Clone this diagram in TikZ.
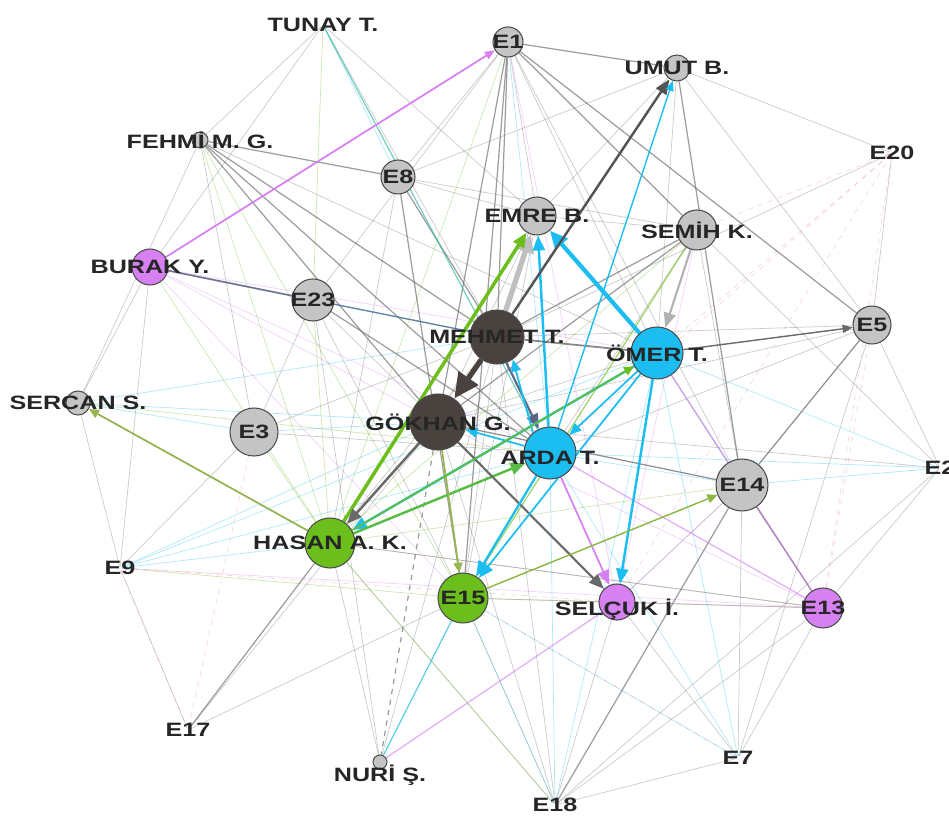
\documentclass[tikz,border=0pt]{standalone}
\usepackage{fontspec}
\newfontfamily\lblfont{Liberation Sans}[FakeStretch=1.3]
\usepackage{xcolor}
\usepackage{tikz}
\usetikzlibrary{positioning,shapes,arrows.meta,backgrounds}

\definecolor{nodedark}{RGB}{74,66,62}
\definecolor{nodecyan}{RGB}{28,190,242}
\definecolor{nodegreen}{RGB}{108,190,28}
\definecolor{nodepurple}{RGB}{214,128,242}
\definecolor{nodegray}{RGB}{196,196,196}
\definecolor{edgegray}{RGB}{105,105,105}
\definecolor{edgeteal}{RGB}{40,185,160}
\definecolor{edgeolive}{RGB}{150,180,80}
\definecolor{edgepink}{RGB}{235,140,140}
\definecolor{edgeslate}{RGB}{95,100,135}

\tikzset{
  actor/.style={circle, draw=black!70, line width=0.6pt, inner sep=0pt},
  darknode/.style={actor, fill=nodedark, minimum size=#1},
  cyannode/.style={actor, fill=nodecyan, minimum size=#1},
  greennode/.style={actor, fill=nodegreen, minimum size=#1},
  purplenode/.style={actor, fill=nodepurple, minimum size=#1},
  graynode/.style={actor, fill=nodegray, minimum size=#1},
  tag/.style={inner sep=0pt, minimum size=0.6mm},
  every label/.style={font=\lblfont\bfseries\fontsize{11}{13}\selectfont, text=black!85, inner sep=0pt},
  link/.style={draw=#1, line width=0.4pt, draw opacity=0.35},
  tie/.style={draw=#1, line width=0.7pt, draw opacity=0.65},
  flow/.style={draw=#1, line width=1.4pt, -{Triangle[length=3mm,width=2.4mm]}}
}

\begin{document}
\begin{tikzpicture}[x=0.2mm, y=-0.2mm]
\useasboundingbox (0,0) rectangle (949,817);
% Actors
\node[darknode=10.8mm, label={center:MEHMET T.}] (mehmet) at (497,337) {};
\node[darknode=11.2mm, label={center:GÖKHAN G.}] (gokhan) at (438,422) {};
\node[cyannode=10.4mm, label={center:ÖMER T.}] (omer) at (657,353) {};
\node[cyannode=10.4mm, label={[yshift=-1mm]center:ARDA T.}] (arda) at (550,453) {};
\node[greennode=10mm, label={center:HASAN A. K.}] (hasan) at (330,543) {};
\node[graynode=7.6mm, label={center:EMRE B.}] (emre) at (537,216) {};
\node[graynode=8mm, label={center:SEMİH K.}] (semih) at (697,230) {};
\node[graynode=5.2mm, label={center:UMUT B.}] (umut) at (677,68) {};
\node[purplenode=7.2mm, label={center:BURAK Y.}] (burak) at (150,267) {};
\node[purplenode=7.2mm, label={[yshift=-1.5mm]center:SELÇUK İ.}] (selcuk) at (617,602) {};
\node[graynode=3.2mm, label={center:FEHMİ M. G.}] (fehmi) at (200,140) {};
\node[graynode=4.8mm, label={center:SERCAN S.}] (sercan) at (78,403) {};
\node[graynode=2.8mm, label={[yshift=-2.6mm]center:NURİ Ş.}] (nuri) at (380,762) {};
\node[tag, label={center:TUNAY T.}] (tunay) at (323,25) {};

% Events
\node[greennode=10mm, label={center:E15}] (e15) at (463,598) {};
\node[graynode=10.4mm, label={center:E14}] (e14) at (742,485) {};
\node[graynode=9.6mm, label={center:E3}] (e3) at (254,432) {};
\node[graynode=7.6mm, label={center:E5}] (e5) at (872,325) {};
\node[graynode=8.4mm, label={center:E23}] (e23) at (313,300) {};
\node[graynode=6.8mm, label={center:E8}] (e8) at (398,177) {};
\node[graynode=6mm, label={center:E1}] (e1) at (508,42) {};
\node[purplenode=8mm, label={center:E13}] (e13) at (823,608) {};
\node[tag, label={center:E20}] (e20) at (892,153) {};
\node[tag, label={center:E2}] (e2) at (940,468) {};
\node[tag, label={center:E9}] (e9) at (120,568) {};
\node[tag, label={center:E17}] (e17) at (188,730) {};
\node[tag, label={center:E7}] (e7) at (738,758) {};
\node[tag, label={center:E18}] (e18) at (555,805) {};

\begin{pgfonlayer}{background}
% Faint links
\foreach \a/\b in {e20/umut, e20/e5, e20/mehmet, e2/e5, e2/e13, e2/e18, e2/semih, e7/e13, e7/e18,
  e7/selcuk, e7/e5, e18/hasan, e18/gokhan, e18/mehmet, nuri/hasan, nuri/mehmet,
  e17/gokhan, e17/e9, e9/sercan, e9/e3, sercan/burak, sercan/fehmi, tunay/fehmi, tunay/burak,
  tunay/mehmet, tunay/emre, umut/e5, umut/emre, umut/e8, e5/e14, e5/arda, e5/gokhan, e5/mehmet,
  e14/omer, e14/gokhan, e14/selcuk, e13/selcuk, e13/hasan, e15/omer, emre/gokhan, emre/arda,
  emre/e15, emre/semih, mehmet/e15, mehmet/hasan, gokhan/arda, gokhan/omer, e8/emre, e8/semih,
  e8/e1, e8/hasan, e23/gokhan, e23/e15, e3/mehmet, e3/arda, e3/e23, burak/e23, fehmi/omer,
  fehmi/e3, e1/emre, e1/e23, e1/omer, e9/burak, e17/e15, e14/e7, selcuk/e18, e1/e14, umut/omer,
  semih/arda, semih/e14, e2/gokhan, e18/e13, nuri/e23, e15/e18}
  \draw[link=edgegray] (\a) -- (\b);
\foreach \a/\b in {sercan/gokhan, sercan/e3, e3/gokhan, e9/hasan, e9/gokhan, e9/arda, e23/mehmet,
  e14/arda, e14/e2, e2/arda, e18/e15, e18/arda, e7/arda, e7/e15, tunay/e8, e1/arda, omer/e13,
  e2/omer, sercan/mehmet, e9/omer, e18/omer, e7/omer}
  \draw[link=nodecyan] (\a) -- (\b);
\foreach \a/\b in {fehmi/hasan, fehmi/e15, e3/hasan, e23/hasan, burak/hasan, semih/hasan,
  hasan/e14, e15/e13, e15/selcuk, e9/e15, sercan/arda, tunay/e23, e1/hasan, e13/e14, hasan/e13,
  e15/nuri, e18/hasan}
  \draw[link=nodegreen] (\a) -- (\b);
\foreach \a/\b in {burak/gokhan, burak/arda, burak/e15, e13/gokhan, e13/e15, selcuk/e14,
  semih/selcuk, e9/e13, e1/selcuk, e14/e13, burak/omer, e13/hasan}
  \draw[link=nodepurple] (\a) -- (\b);
\foreach \a/\b in {e20/arda, e20/omer, e20/e13, e20/selcuk, e20/semih, e9/e17, e17/e3, e13/e5,
  e15/e7, e9/selcuk}
  \draw[link=edgepink, dashed] (\a) -- (\b);

% Visible ties
\foreach \a/\b in {fehmi/mehmet, fehmi/arda, fehmi/e8, fehmi/gokhan, e8/mehmet, e1/gokhan,
  e1/e15, e1/mehmet, e1/umut, e1/semih, e1/e5, semih/gokhan, semih/mehmet, e5/e14, e23/arda,
  e8/e15, umut/e14, hasan/e17, e13/e14, gokhan/e14, e18/e14}
  \draw[tie=edgegray] (\a) -- (\b);
\draw[tie=edgegray, dashed] (gokhan) -- (nuri);
\draw[tie=edgeteal] (tunay) -- (arda);
\draw[tie=nodecyan] (e15) -- (nuri);
\draw[tie=nodegreen] (semih) -- (e15);
\draw[tie=nodepurple] (e13) -- (arda);
\draw[tie=nodepurple] (e13) -- (omer);
\draw[tie=nodepurple] (selcuk) -- (nuri);
\draw[tie=edgeslate, line width=1pt] (burak) -- (e23);
\draw[tie=nodecyan!60!edgeslate] (e23) -- (mehmet);
\draw[tie=edgeslate] (burak) -- (mehmet);

% Strong ties
\draw[flow=nodedark, line width=3pt, -{Triangle[length=5mm,width=4.6mm]}] (mehmet) -- (gokhan);
\draw[flow=black!25, line width=3pt, -{Triangle[length=3.6mm,width=3.4mm]}] (mehmet) -- (emre);
\draw[flow=nodegreen, line width=2pt] (hasan) -- (emre);
\draw[flow=nodecyan, line width=2.4pt, -{Triangle[length=3.6mm,width=3.2mm]}] (omer) -- (emre);
\draw[flow=nodecyan] (arda) -- (emre);
\draw[flow=edgegray!80!black] (mehmet) -- (umut);
\draw[flow=nodepurple, line width=1pt, -{Triangle[length=2mm,width=1.6mm]}] (burak) -- (e1);
\draw[flow=edgeslate, line width=1.2pt] (mehmet.-70) -- (arda.115);
\draw[flow=nodecyan, line width=1pt, -{Triangle[length=2.4mm,width=2mm]}] (arda.130) -- (mehmet.-55);
\draw[flow=edgegray] (gokhan) -- (hasan);
\draw[flow=nodecyan] (omer) -- (hasan);
\draw[flow=nodegreen!70!edgeteal] (hasan) -- (arda);
\draw[flow=nodecyan, line width=1pt, -{Triangle[length=2.4mm,width=2mm]}] (arda) -- (gokhan);
\draw[flow=nodecyan, line width=1pt, -{Triangle[length=2.4mm,width=2mm]}] (omer) -- (arda);
\draw[flow=nodecyan] (omer) -- (selcuk);
\draw[flow=edgegray, line width=1.2pt] (gokhan) -- (selcuk);
\draw[flow=nodepurple, line width=1pt] (arda) -- (selcuk);
\draw[flow=nodecyan, line width=1.3pt] (arda) -- (e15);
\draw[flow=nodecyan, line width=1pt] (omer) -- (e15);
\draw[flow=edgeolive, line width=1pt, -{Triangle[length=2mm,width=1.8mm]}] (gokhan) -- (e15);
\draw[flow=edgeolive!70!nodegreen, line width=0.8pt, -{Triangle[length=2mm,width=1.8mm]}] (e15) -- (e14);
\draw[flow=edgeolive, line width=1pt, -{Triangle[length=2mm,width=1.8mm]}] (hasan) -- (sercan);
\draw[flow=nodegreen, line width=0.8pt, -{Triangle[length=2mm,width=1.8mm]}] (hasan) -- (omer);
\draw[flow=black!30, line width=1.2pt] (semih) -- (omer);
\draw[flow=edgegray, line width=0.8pt, -{Triangle[length=2mm,width=1.6mm]}] (omer) -- (e5);
\draw[tie=edgegray!70!black, line width=1pt] (mehmet) -- (omer);
\draw[flow=nodecyan, line width=0.8pt, -{Triangle[length=2mm,width=1.6mm]}] (arda) -- (umut);
\end{pgfonlayer}
\end{tikzpicture}
\end{document}
